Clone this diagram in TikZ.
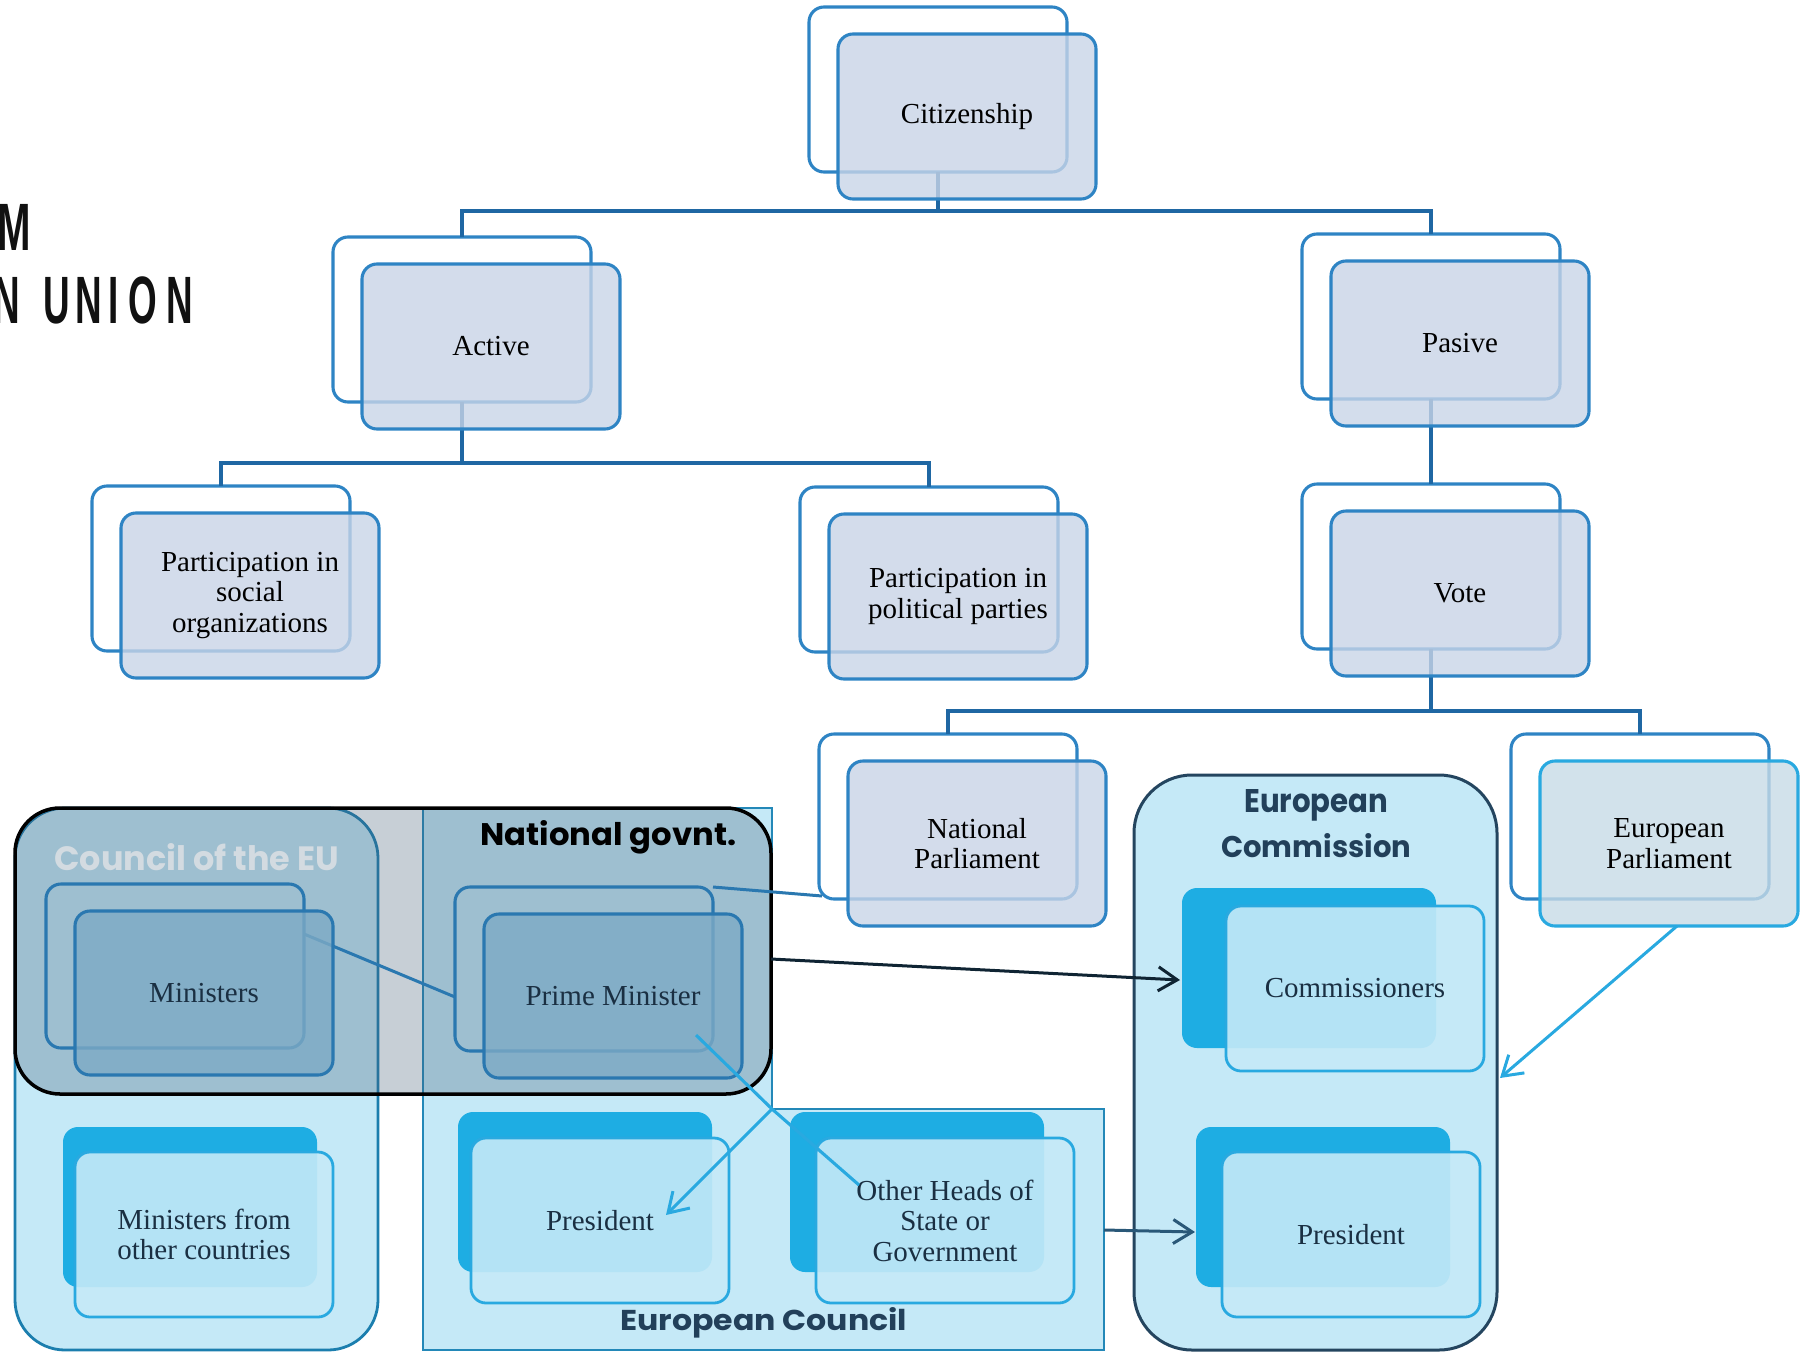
\documentclass[tikz,border=0pt]{standalone}
\usepackage{fontspec}
\setmainfont{Liberation Serif}
\newfontfamily\titlefont{Poppins}
\newfontfamily\headfont{Liberation Sans}
\usetikzlibrary{arrows.meta,calc}
\newcommand\bxfont{\fontsize{29}{30.5}\selectfont}
\definecolor{boxblue}{HTML}{2E84C4}
\definecolor{linkblue}{HTML}{1F67A3}
\definecolor{frontfill}{HTML}{C8D4E7}
\definecolor{cyanbg}{HTML}{C5E9F7}
\definecolor{cyandark}{HTML}{1EADE3}
\definecolor{cyanline}{HTML}{29A9E0}
\definecolor{councilline}{HTML}{1B7EAE}
\definecolor{ecline}{HTML}{2388B8}
\definecolor{navy}{HTML}{22405A}
\definecolor{commline}{HTML}{24455F}
\definecolor{grpfill}{HTML}{475F77}
\definecolor{innerline}{HTML}{2A78B0}
\definecolor{innerfill}{HTML}{7DAAC5}
\definecolor{epfill}{HTML}{C7DBE6}
\definecolor{txtnavy}{HTML}{1A2F42}
\definecolor{councilgrey}{HTML}{D3DBE1}
\definecolor{arrowslate}{HTML}{2A5878}
\definecolor{arrowdark}{HTML}{0F2433}
\definecolor{hdr}{HTML}{111111}
\tikzset{
  boxbase/.style={anchor=north west, inner sep=0pt, outer sep=0pt, rounded corners=15pt, line width=3.1pt},
  trbk/.style={boxbase, draw=boxblue, fill=white, minimum width=258pt, minimum height=165pt},
  trfr/.style={boxbase, draw=boxblue, fill=frontfill, fill opacity=0.8, text opacity=1,
    minimum width=258pt, minimum height=165pt, align=center, font=\bxfont, text=black},
  conn/.style={draw=linkblue, line width=3.3pt},
  inbk/.style={boxbase, draw=innerline, minimum width=258pt, minimum height=164pt},
  infr/.style={inbk, fill=innerfill, fill opacity=0.8, text opacity=1, text=txtnavy, font=\bxfont, align=center},
  cybk/.style={boxbase, fill=cyandark, draw=none, minimum width=254pt, minimum height=160pt},
  cyfr/.style={boxbase, fill=cyanbg, fill opacity=0.9, text opacity=1, draw=cyanline, line width=2.8pt,
    minimum width=258pt, minimum height=165pt, text=txtnavy, font=\bxfont, align=center},
  cont/.style={anchor=north west, inner sep=0pt, outer sep=0pt, fill=cyanbg, line width=2.8pt},
  ilink/.style={draw=innerline, line width=3pt},
  cyanlink/.style={draw=cyanline, line width=3.1pt},
  arr/.style={-{Straight Barb[length=19pt,width=24pt]}, line width=3pt},
  lbl/.style={anchor=base west, inner sep=0pt, font=\titlefont\bfseries},
}
\begin{document}
\begin{tikzpicture}[x=1pt,y=-1pt]
\useasboundingbox (0,0) rectangle (1813,1352);
% header fragments
\node[anchor=base west, inner sep=0pt, font=\headfont\bfseries\fontsize{67}{67}\selectfont, text=hdr] (hm) at (-3,250) {\scalebox{0.6}[1]{M}};
\node[anchor=base west, inner sep=0pt, font=\headfont\bfseries\fontsize{67}{67}\selectfont, text=hdr] (hn) at (-6.6,323) {\scalebox{0.55}[1]{N\kern.62em U\kern.15em N\kern.18em I\kern.26em O\kern.27em N}};
% tree back boxes
\node[trbk] (citb) at (809,7) {};
\node[trbk] (actb) at (333,237) {};
\node[trbk] (pasb) at (1302,234) {};
\node[trbk] (psob) at (92,486) {};
\node[trbk] (pppb) at (800,487) {};
\node[trbk] (voteb) at (1302,484) {};
\node[trbk] (npb) at (819,734) {};
\node[trbk] (epb) at (1511,734) {};
% tree connectors
\draw[conn] (citb.south) -- ++(0,39) coordinate (j1);
\draw[conn] (actb.north) |- (j1) -| (pasb.north);
\draw[conn] (actb.south) -- ++(0,61) coordinate (j2);
\draw[conn] (psob.north) |- (j2) -| (pppb.north);
\draw[conn] (pasb.south) -- (voteb.north);
\draw[conn] (voteb.south) -- ++(0,62) coordinate (j3);
\draw[conn] (npb.north) |- (j3) -| (epb.north);
% tree front boxes
\node[trfr] (cit) at (838,34) {Citizenship};
\node[trfr] (act) at (362,264) {Active};
\node[trfr] (pas) at (1331,261) {Pasive};
\node[trfr] (pso) at (121,513) {Participation in\\social\\organizations};
\node[trfr] (ppp) at (829,514) {Participation in\\political parties};
\node[trfr] (vote) at (1331,511) {Vote};
\node[trfr] (np) at (848,761) {National\\Parliament};
\node[trfr, draw=cyanline, fill=epfill] (ep) at (1540,761) {European\\Parliament};
% containers
\node[cont, draw=councilline, minimum width=363pt, minimum height=542pt, rounded corners=50pt] (council) at (15,808) {};
\draw[line width=2.4pt, draw=ecline, fill=cyanbg] (423,808) -- (772,808) -- (772,1109) -- (1104,1109) -- (1104,1350) -- (423,1350) -- cycle;
\coordinate (eccorner) at (772,1109);
\coordinate (ecright) at (1104,1230);
\node[cont, draw=commline, line width=3pt, minimum width=363pt, minimum height=575pt, rounded corners=58pt] (comm) at (1134,775) {};
\node[anchor=north west, inner sep=0pt, outer sep=0pt, draw=black, line width=3.5pt, fill=grpfill, fill opacity=0.3, rounded corners=45pt, minimum width=756pt, minimum height=286pt] (ng) at (15,808) {};
% labels
\node[lbl, text=councilgrey] (lcouncil) at (54,870) {\resizebox{285pt}{27pt}{Council of the EU}};
\node[lbl, text=black] (lng) at (480,845) {\resizebox{256pt}{25pt}{National govnt.}};
\node[lbl, text=navy] (lec) at (620,1330) {\resizebox{287pt}{23pt}{European Council}};
\node[lbl, text=navy] (lcom1) at (1244,812) {\resizebox{144pt}{23pt}{European}};
\node[lbl, text=navy] (lcom2) at (1221,857) {\resizebox{190pt}{24pt}{Commission}};
% national govt inner nodes
\node[inbk] (minb) at (46,884) {};
\node[inbk] (pmb) at (455,887) {};
\draw[ilink] ($(minb.north east)+(0,50)$) -- ($(pmb.north west)+(0,110)$);
\draw[ilink] (pmb.north east) -- ($(npb.south west)+(3,-3)$);
\node[infr] (min) at (75,911) {Ministers};
\node[infr] (pm) at (484,914) {Prime Minister};
% cyan nodes
\node[cybk] (mob) at (63,1127) {};
\node[cyfr] (mo) at (75,1152) {Ministers from\\other countries};
\node[cybk] (ecpb) at (458,1112) {};
\node[cyfr] (ecp) at (471,1138) {President};
\node[cybk] (ohb) at (790,1112) {};
\node[cyfr] (oh) at (816,1138) {Other Heads of\\State or\\Government};
\node[cybk] (comb) at (1182,888) {};
\node[cyfr] (com) at (1226,906) {Commissioners};
\node[cybk] (cprb) at (1196,1127) {};
\node[cyfr] (cpr) at (1222,1152) {President};
% arrows and links
\draw[arr, draw=arrowdark] ($(ng.north east)+(0,151)$) -- ($(comb.north west)+(-2,92)$);
\draw[arr, draw=arrowslate] (ecright) -- ($(cprb.north west)+(-1,105)$);
\draw[cyanlink] ($(pm.north west)+(212,121)$) -- (eccorner);
\draw[cyanlink, arr] (eccorner) -- ($(ecp.north west)+(195,77)$);
\draw[cyanlink] (eccorner) -- ($(oh.north west)+(43,47)$);
\draw[cyanlink, arr] ($(ep.south)+(8,0)$) -- ($(comm.north east)+(3,303)$);
\end{tikzpicture}
\end{document}
